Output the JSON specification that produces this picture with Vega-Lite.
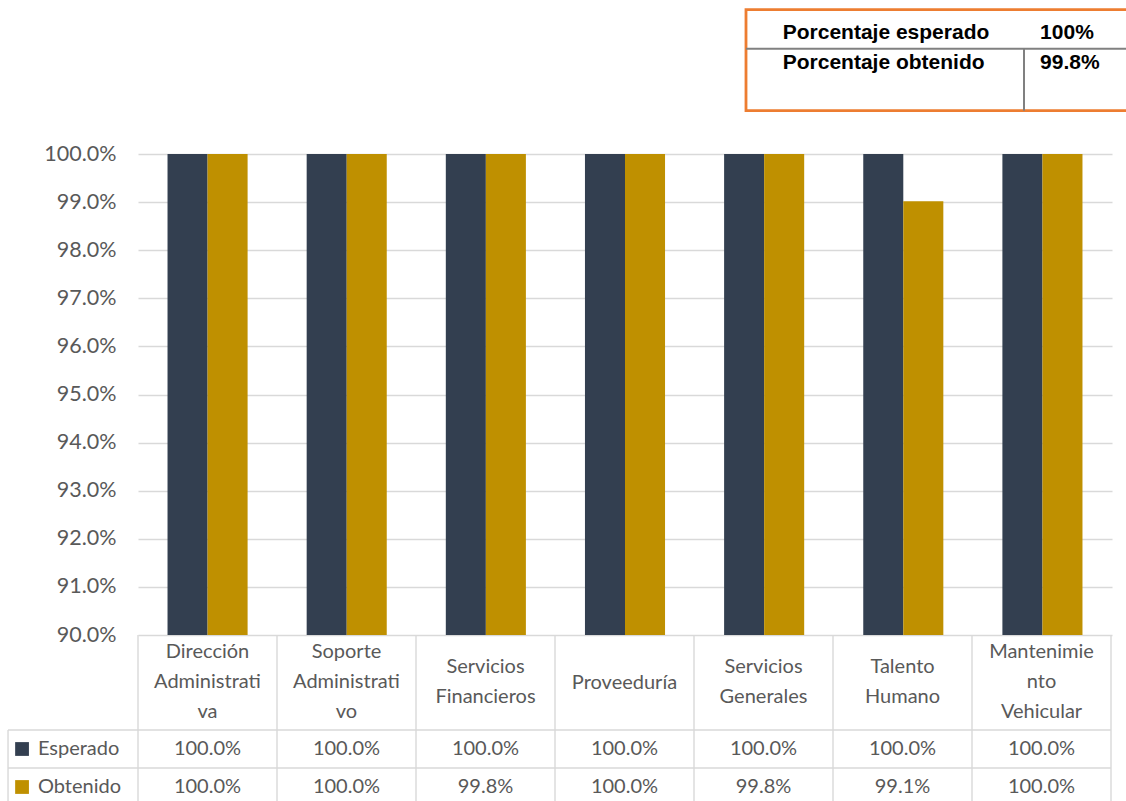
{
  "$schema": "https://vega.github.io/schema/vega-lite/v6.json",
  "width": 974,
  "height": 481,
  "autosize": {"type": "none"},
  "padding": {"left": 138, "top": 154, "right": 14, "bottom": 166},
  "background": "white",
  "config": {"view": {"stroke": null}, "font": "Lato"},
  "datasets": {
    "valores": [
      {"area": "Dirección Administrativa", "serie": "Esperado", "valor": 1.0, "texto": "100.0%"},
      {"area": "Soporte Administrativo", "serie": "Esperado", "valor": 1.0, "texto": "100.0%"},
      {"area": "Servicios Financieros", "serie": "Esperado", "valor": 1.0, "texto": "100.0%"},
      {"area": "Proveeduría", "serie": "Esperado", "valor": 1.0, "texto": "100.0%"},
      {"area": "Servicios Generales", "serie": "Esperado", "valor": 1.0, "texto": "100.0%"},
      {"area": "Talento Humano", "serie": "Esperado", "valor": 1.0, "texto": "100.0%"},
      {"area": "Mantenimiento Vehicular", "serie": "Esperado", "valor": 1.0, "texto": "100.0%"},
      {"area": "Dirección Administrativa", "serie": "Obtenido", "valor": 1.0, "texto": "100.0%"},
      {"area": "Soporte Administrativo", "serie": "Obtenido", "valor": 1.0, "texto": "100.0%"},
      {"area": "Servicios Financieros", "serie": "Obtenido", "valor": 1.0, "texto": "99.8%"},
      {"area": "Proveeduría", "serie": "Obtenido", "valor": 1.0, "texto": "100.0%"},
      {"area": "Servicios Generales", "serie": "Obtenido", "valor": 1.0, "texto": "99.8%"},
      {"area": "Talento Humano", "serie": "Obtenido", "valor": 0.9902, "texto": "99.1%"},
      {"area": "Mantenimiento Vehicular", "serie": "Obtenido", "valor": 1.0, "texto": "100.0%"}
    ],
    "areas": [
      {"area": "Dirección Administrativa", "etiqueta": "Dirección\nAdministrati\nva"},
      {"area": "Soporte Administrativo", "etiqueta": "Soporte\nAdministrati\nvo"},
      {"area": "Servicios Financieros", "etiqueta": "Servicios\nFinancieros"},
      {"area": "Proveeduría", "etiqueta": "Proveeduría"},
      {"area": "Servicios Generales", "etiqueta": "Servicios\nGenerales"},
      {"area": "Talento Humano", "etiqueta": "Talento\nHumano"},
      {"area": "Mantenimiento Vehicular", "etiqueta": "Mantenimie\nnto\nVehicular"}
    ],
    "series": [{"serie": "Esperado"}, {"serie": "Obtenido"}],
    "resumen": [
      {"concepto": "Porcentaje esperado", "valor": "100%"},
      {"concepto": "Porcentaje obtenido", "valor": "99.8%"}
    ],
    "uno": [{}]
  },
  "layer": [
    {
      "data": {"name": "valores"},
      "mark": {"type": "bar", "clip": false},
      "encoding": {
        "x": {"field": "area", "type": "nominal", "axis": null,
          "scale": {"type": "band", "domain": ["Dirección Administrativa", "Soporte Administrativo", "Servicios Financieros", "Proveeduría", "Servicios Generales", "Talento Humano", "Mantenimiento Vehicular"], "paddingInner": 0.4245, "paddingOuter": 0.2122}},
        "xOffset": {"field": "serie", "type": "nominal", "scale": {"domain": ["Esperado", "Obtenido"]}},
        "y": {"field": "valor", "type": "quantitative",
          "scale": {"domain": [0.9, 1.0], "zero": false, "nice": false},
          "axis": {"values": [0.9, 0.91, 0.92, 0.93, 0.94, 0.95, 0.96, 0.97, 0.98, 0.99, 1.0], "format": ".1%", "grid": true, "gridColor": "#d9d9d9", "gridWidth": 1.4, "domain": false, "ticks": false, "tickSize": 0, "labelPadding": 22, "labelFontSize": 21.5, "labelColor": "#595959", "labelFont": "Lato", "title": null}},
        "y2": {"datum": 0.9},
        "color": {"field": "serie", "type": "nominal", "legend": null,
          "scale": {"domain": ["Esperado", "Obtenido"], "range": ["#333f50", "#bf9000"]}}
      }
    },
    {
      "data": {"name": "areas"},
      "mark": {"type": "rule", "color": "#d9d9d9", "strokeWidth": 1.4},
      "encoding": {
        "x": {"field": "area", "type": "nominal", "bandPosition": 0, "axis": null,
          "scale": {"type": "band", "domain": ["Dirección Administrativa", "Soporte Administrativo", "Servicios Financieros", "Proveeduría", "Servicios Generales", "Talento Humano", "Mantenimiento Vehicular"], "range": [0, 973], "padding": 0}},
        "y": {"datum": 0, "type": "quantitative", "axis": null, "scale": {"domain": [0, 4.5], "range": [481, 652]}},
        "y2": {"datum": 4.5}
      }
    },
    {
      "data": {"name": "uno"},
      "mark": {"type": "rule", "color": "#d9d9d9", "strokeWidth": 1.4},
      "encoding": {
        "x": {"datum": 7, "type": "quantitative", "axis": null, "scale": {"domain": [0, 7], "range": [0, 973]}},
        "y": {"datum": 0, "type": "quantitative", "axis": null, "scale": {"domain": [0, 4.5], "range": [481, 652]}},
        "y2": {"datum": 4.5}
      }
    },
    {
      "data": {"name": "uno"},
      "mark": {"type": "rule", "color": "#d9d9d9", "strokeWidth": 1.4},
      "encoding": {
        "x": {"datum": -0.935, "type": "quantitative", "axis": null, "scale": {"domain": [0, 7], "range": [0, 973]}},
        "y": {"datum": 2.5, "type": "quantitative", "axis": null, "scale": {"domain": [0, 4.5], "range": [481, 652]}},
        "y2": {"datum": 4.5}
      }
    },
    {
      "data": {"name": "uno"},
      "mark": {"type": "rule", "color": "#d9d9d9", "strokeWidth": 1.4},
      "encoding": {
        "x": {"datum": -0.935, "type": "quantitative", "axis": null, "scale": {"domain": [0, 7], "range": [0, 973]}},
        "x2": {"datum": 7},
        "y": {"datum": 2.5, "type": "quantitative", "axis": null, "scale": {"domain": [0, 4.5], "range": [481, 652]}}
      }
    },
    {
      "data": {"name": "uno"},
      "mark": {"type": "rule", "color": "#d9d9d9", "strokeWidth": 1.4},
      "encoding": {
        "x": {"datum": -0.935, "type": "quantitative", "axis": null, "scale": {"domain": [0, 7], "range": [0, 973]}},
        "x2": {"datum": 7},
        "y": {"datum": 3.5, "type": "quantitative", "axis": null, "scale": {"domain": [0, 4.5], "range": [481, 652]}}
      }
    },
    {
      "data": {"name": "areas"},
      "transform": [{"filter": {"field": "area", "oneOf": ["Dirección Administrativa", "Soporte Administrativo", "Mantenimiento Vehicular"]}}],
      "mark": {"type": "text", "lineBreak": "\n", "fontSize": 20, "color": "#595959", "lineHeight": 30, "baseline": "middle", "align": "center"},
      "encoding": {
        "x": {"field": "area", "type": "nominal", "bandPosition": 0.5, "axis": null,
          "scale": {"type": "band", "domain": ["Dirección Administrativa", "Soporte Administrativo", "Servicios Financieros", "Proveeduría", "Servicios Generales", "Talento Humano", "Mantenimiento Vehicular"], "range": [0, 973], "padding": 0}},
        "y": {"datum": 0.4605, "type": "quantitative", "axis": null, "scale": {"domain": [0, 4.5], "range": [481, 652]}},
        "text": {"field": "etiqueta"}
      }
    },
    {
      "data": {"name": "areas"},
      "transform": [{"filter": {"field": "area", "oneOf": ["Servicios Financieros", "Servicios Generales", "Talento Humano"]}}],
      "mark": {"type": "text", "lineBreak": "\n", "fontSize": 20, "color": "#595959", "lineHeight": 30, "baseline": "middle", "align": "center"},
      "encoding": {
        "x": {"field": "area", "type": "nominal", "bandPosition": 0.5, "axis": null,
          "scale": {"type": "band", "domain": ["Dirección Administrativa", "Soporte Administrativo", "Servicios Financieros", "Proveeduría", "Servicios Generales", "Talento Humano", "Mantenimiento Vehicular"], "range": [0, 973], "padding": 0}},
        "y": {"datum": 0.855, "type": "quantitative", "axis": null, "scale": {"domain": [0, 4.5], "range": [481, 652]}},
        "text": {"field": "etiqueta"}
      }
    },
    {
      "data": {"name": "areas"},
      "transform": [{"filter": {"field": "area", "oneOf": ["Proveeduría"]}}],
      "mark": {"type": "text", "fontSize": 20, "color": "#595959", "baseline": "middle", "align": "center"},
      "encoding": {
        "x": {"field": "area", "type": "nominal", "bandPosition": 0.5, "axis": null,
          "scale": {"type": "band", "domain": ["Dirección Administrativa", "Soporte Administrativo", "Servicios Financieros", "Proveeduría", "Servicios Generales", "Talento Humano", "Mantenimiento Vehicular"], "range": [0, 973], "padding": 0}},
        "y": {"datum": 1.25, "type": "quantitative", "axis": null, "scale": {"domain": [0, 4.5], "range": [481, 652]}},
        "text": {"field": "etiqueta"}
      }
    },
    {
      "data": {"name": "valores"},
      "mark": {"type": "text", "fontSize": 20, "color": "#595959", "baseline": "middle", "align": "center"},
      "encoding": {
        "x": {"field": "area", "type": "nominal", "bandPosition": 0.5, "axis": null,
          "scale": {"type": "band", "domain": ["Dirección Administrativa", "Soporte Administrativo", "Servicios Financieros", "Proveeduría", "Servicios Generales", "Talento Humano", "Mantenimiento Vehicular"], "range": [0, 973], "padding": 0}},
        "y": {"field": "serie", "type": "nominal", "axis": null,
          "scale": {"type": "band", "domain": ["Esperado", "Obtenido"], "range": [576, 652], "padding": 0}},
        "text": {"field": "texto"}
      }
    },
    {
      "data": {"name": "series"},
      "mark": {"type": "square", "size": 190, "opacity": 1},
      "encoding": {
        "x": {"datum": 0.108, "type": "quantitative", "axis": null, "scale": {"domain": [0, 1], "range": [-130, 0]}},
        "y": {"field": "serie", "type": "nominal", "axis": null,
          "scale": {"type": "band", "domain": ["Esperado", "Obtenido"], "range": [576, 652], "padding": 0}},
        "color": {"field": "serie", "type": "nominal", "legend": null,
          "scale": {"domain": ["Esperado", "Obtenido"], "range": ["#333f50", "#bf9000"]}}
      }
    },
    {
      "data": {"name": "series"},
      "mark": {"type": "text", "fontSize": 20, "color": "#595959", "baseline": "middle", "align": "left"},
      "encoding": {
        "x": {"datum": 0.23, "type": "quantitative", "axis": null, "scale": {"domain": [0, 1], "range": [-130, 0]}},
        "y": {"field": "serie", "type": "nominal", "axis": null,
          "scale": {"type": "band", "domain": ["Esperado", "Obtenido"], "range": [576, 652], "padding": 0}},
        "text": {"field": "serie"}
      }
    },
    {
      "data": {"name": "uno"},
      "mark": {"type": "rect", "fill": null, "fillOpacity": 0, "stroke": "#ed7d31", "strokeWidth": 2.8},
      "encoding": {
        "x": {"datum": 0, "type": "quantitative", "axis": null, "scale": {"domain": [0, 1], "range": [608, 988]}},
        "x2": {"datum": 1.1},
        "y": {"datum": 0, "type": "quantitative", "axis": null, "scale": {"domain": [0, 1], "range": [-144.3, -43.3]}},
        "y2": {"datum": 1}
      }
    },
    {
      "data": {"name": "uno"},
      "mark": {"type": "rule", "color": "#808080", "strokeWidth": 2},
      "encoding": {
        "x": {"datum": 0, "type": "quantitative", "axis": null, "scale": {"domain": [0, 1], "range": [608, 988]}},
        "x2": {"datum": 1.1},
        "y": {"datum": 0.387, "type": "quantitative", "axis": null, "scale": {"domain": [0, 1], "range": [-144.3, -43.3]}}
      }
    },
    {
      "data": {"name": "uno"},
      "mark": {"type": "rule", "color": "#808080", "strokeWidth": 2},
      "encoding": {
        "x": {"datum": 0.7316, "type": "quantitative", "axis": null, "scale": {"domain": [0, 1], "range": [608, 988]}},
        "y": {"datum": 0.387, "type": "quantitative", "axis": null, "scale": {"domain": [0, 1], "range": [-144.3, -43.3]}},
        "y2": {"datum": 1}
      }
    },
    {
      "data": {"name": "resumen"},
      "mark": {"type": "text", "font": "Liberation Sans", "fontWeight": "bold", "fontSize": 21, "color": "#000000", "align": "left", "baseline": "alphabetic"},
      "encoding": {
        "x": {"datum": 0.0966, "type": "quantitative", "axis": null, "scale": {"domain": [0, 1], "range": [608, 988]}},
        "y": {"field": "concepto", "type": "nominal", "axis": null,
          "scale": {"type": "point", "domain": ["Porcentaje esperado", "Porcentaje obtenido"], "range": [-114.7, -84.7], "padding": 0}},
        "text": {"field": "concepto"}
      }
    },
    {
      "data": {"name": "resumen"},
      "mark": {"type": "text", "font": "Liberation Sans", "fontWeight": "bold", "fontSize": 21, "color": "#000000", "align": "left", "baseline": "alphabetic"},
      "encoding": {
        "x": {"datum": 0.774, "type": "quantitative", "axis": null, "scale": {"domain": [0, 1], "range": [608, 988]}},
        "y": {"field": "concepto", "type": "nominal", "axis": null,
          "scale": {"type": "point", "domain": ["Porcentaje esperado", "Porcentaje obtenido"], "range": [-114.7, -84.7], "padding": 0}},
        "text": {"field": "valor"}
      }
    }
  ],
  "resolve": {"scale": {"x": "independent", "y": "independent", "color": "independent"}}
}
